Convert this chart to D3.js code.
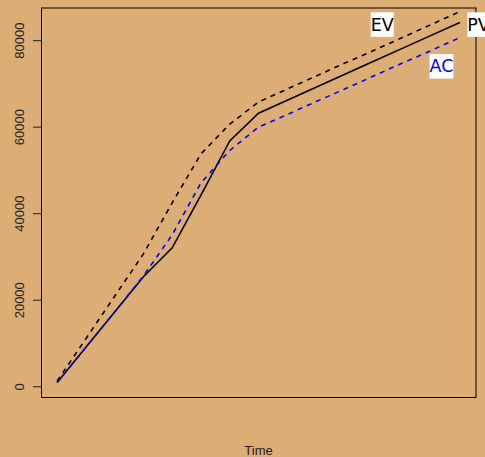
<!DOCTYPE html>
<html>
<head>
<meta charset="utf-8">
<script src="https://cdn.jsdelivr.net/npm/d3@7"></script>
<style>
  body { margin: 0; background: #dcad74; }
  svg { display: block; }
  .tick text { font-family: "Liberation Sans", Arial, sans-serif; }
</style>
</head>
<body>
<svg width="485" height="457"></svg>
<script>
// time index and the three cumulative series
var time = [1, 2, 3, 4, 5, 6, 7, 8, 9, 10, 11, 12, 13, 14, 15];
var pv = [850, 9000, 17150, 25300, 32000, 44200, 56700, 63100, 66100, 69100, 72100, 75100, 78100, 81100, 84100];
var ev = [1200, 11000, 20800, 30600, 42400, 53700, 60600, 65700, 68700, 71700, 74700, 77600, 80600, 83600, 86600];
var ac = [850, 9000, 17150, 25500, 35000, 47000, 54500, 59900, 62800, 65800, 68700, 71700, 74700, 77600, 80600];
var yTicks = [0, 20000, 40000, 60000, 80000];

var svg = d3.select("svg"),
    box = {left: 41, right: 476, top: 8, bottom: 397};

svg.append("rect")
    .attr("width", 485).attr("height", 457)
    .attr("fill", "#dcad74");

// R style 4% padding on both axes
var tExt = d3.extent(time), tPad = (tExt[1] - tExt[0]) * 0.04;
var yExt = d3.extent(pv), yPad = (yExt[1] - yExt[0]) * 0.04;

var x = d3.scaleLinear()
    .domain([tExt[0] - tPad, tExt[1] + tPad])
    .range([box.left, box.right]);

var y = d3.scaleLinear()
    .domain([yExt[0] - yPad, yExt[1] + yPad])
    .range([box.bottom, box.top]);

// y axis
var yAxis = svg.append("g")
    .attr("transform", "translate(" + box.left + ",0)")
    .call(d3.axisLeft(y).tickValues(yTicks).tickSize(8).tickFormat(d3.format("d")));
yAxis.select(".domain").remove();
yAxis.selectAll(".tick line").attr("stroke", "#222");
yAxis.selectAll(".tick text")
    .attr("font-size", 13)
    .attr("fill", "#222")
    .attr("x", null).attr("dy", null)
    .attr("text-anchor", "middle")
    .attr("transform", "translate(-17,0) rotate(-90)");

// lines
var line = d3.line()
    .x(function(d, i) { return x(time[i]); })
    .y(function(d) { return y(d); });

svg.append("path").datum(pv)
    .attr("d", line).attr("fill", "none")
    .attr("stroke", "black").attr("stroke-width", 1.6);

svg.append("path").datum(ev)
    .attr("d", line).attr("fill", "none")
    .attr("stroke", "black").attr("stroke-width", 1.6)
    .attr("stroke-dasharray", "5,5");

svg.append("path").datum(ac)
    .attr("d", line).attr("fill", "none")
    .attr("stroke", "blue").attr("stroke-width", 1.6)
    .attr("stroke-dasharray", "5,5");

// plot frame
svg.append("rect")
    .attr("x", box.left + 0.5).attr("y", box.top)
    .attr("width", box.right - box.left - 0.5)
    .attr("height", box.bottom - box.top + 0.5)
    .attr("fill", "none").attr("stroke", "black").attr("stroke-width", 1);

// series labels with white boxes
var labels = [
  {text: "EV", t: 12.3, v: 83650, color: "black"},
  {text: "PV", t: 15.65, v: 83650, color: "black"},
  {text: "AC", t: 14.36, v: 74000, color: "blue"}
];

labels.forEach(function(l) {
  var g = svg.append("g");
  var txt = g.append("text")
      .attr("x", x(l.t)).attr("y", y(l.v))
      .attr("dy", "0.36em")
      .attr("text-anchor", "middle")
      .attr("font-family", "DejaVu Sans, sans-serif")
      .attr("font-size", 17.5)
      .attr("fill", l.color)
      .text(l.text);
  var bb = txt.node().getBBox();
  g.insert("rect", "text")
      .attr("x", bb.x).attr("y", y(l.v) - 12)
      .attr("width", bb.width).attr("height", 24.5)
      .attr("fill", "white");
});

// x axis title
svg.append("text")
    .attr("x", (box.left + box.right) / 2)
    .attr("y", 455)
    .attr("text-anchor", "middle")
    .attr("font-family", "Liberation Sans, Arial, sans-serif")
    .attr("font-size", 13)
    .attr("fill", "#222")
    .text("Time");
</script>
</body>
</html>
